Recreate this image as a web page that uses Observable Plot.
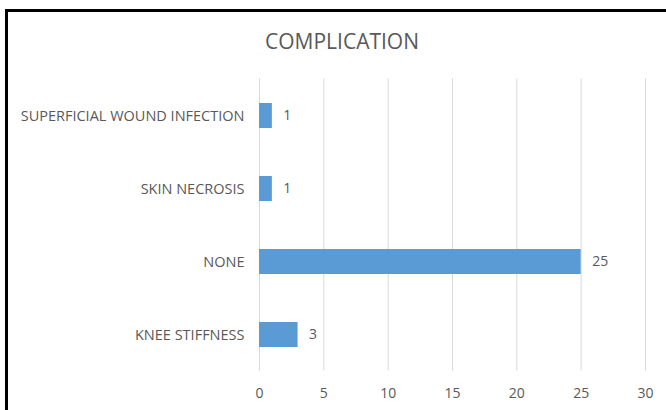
<!DOCTYPE html>
<html>
<head>
<meta charset="utf-8">
<script src="https://cdn.jsdelivr.net/npm/d3@7"></script>
<script src="https://cdn.jsdelivr.net/npm/@observablehq/plot@0.6"></script>
<style>
  html, body { margin: 0; padding: 0; background: #fff; }
  #wrap { position: relative; width: 666px; height: 410px; overflow: hidden; }
  #frame { position: absolute; left: 5px; top: 9px; right: -10px; bottom: -10px;
           border-top: 3px solid #000; border-left: 3px solid #000; }
  #title { position: absolute; left: 0; width: 684px; top: 27px; text-align: center;
           font-family: "Open Sans", sans-serif; font-size: 21px; color: #595959; }
  #chart { position: absolute; left: 0; top: 0; }
</style>
</head>
<body>
<div id="wrap">
  <div id="frame"></div>
  <div id="chart"></div>
  <div id="title">COMPLICATION</div>
</div>
<script>
const categories = ["SUPERFICIAL WOUND INFECTION", "SKIN NECROSIS", "NONE", "KNEE STIFFNESS"];
const counts = [1, 1, 25, 3];
const xTicks = [0, 5, 10, 15, 20, 25, 30];

const data = categories.map((c, i) => ({category: c, value: counts[i]}));

const chart = Plot.plot({
  width: 666,
  height: 410,
  marginLeft: 259,
  marginRight: 21,
  marginTop: 78.5,
  marginBottom: 39.5,
  style: {fontFamily: "Open Sans, sans-serif", fontSize: "14px", color: "#595959", background: "transparent"},
  x: {domain: [0, 30], ticks: xTicks, label: null},
  y: {domain: categories, label: null, padding: 0},
  marks: [
    Plot.gridX(xTicks, {stroke: "#d9d9d9", strokeOpacity: 1, strokeWidth: 1}),
    Plot.barX(data, {y: "category", x: "value", fill: "#5b9bd5", insetTop: 24, insetBottom: 24}),
    Plot.text(data, {y: "category", x: "value", text: d => String(d.value), textAnchor: "start", dx: 11, fontSize: 14, fill: "#595959"}),
    Plot.axisX({ticks: xTicks, tickSize: 0, tickPadding: 17, fontSize: 14, fill: "#595959", anchor: "bottom"}),
    Plot.axisY({tickSize: 0, tickPadding: 15, fontSize: 14.5, fill: "#595959"})
  ]
});
document.getElementById("chart").appendChild(chart);
</script>
</body>
</html>
